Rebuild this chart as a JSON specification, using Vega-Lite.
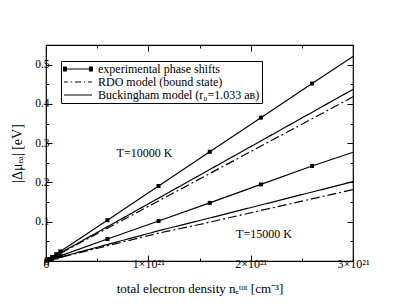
{
  "$schema": "https://vega.github.io/schema/vega-lite/v6.json",
  "width": 307,
  "height": 216,
  "autosize": {"type": "none"},
  "padding": {"left": 46, "top": 45, "right": 45, "bottom": 46},
  "config": {
    "font": "Liberation Serif",
    "view": {"stroke": "black", "strokeWidth": 1.2},
    "mark": {"color": "black"},
    "axis": {
      "domain": false,
      "grid": false,
      "tickColor": "black",
      "tickWidth": 1,
      "labelColor": "black",
      "titleColor": "black",
      "labelFont": "Liberation Serif",
      "titleFont": "Liberation Serif",
      "labelFontSize": 12,
      "titleFontSize": 13,
      "titleFontWeight": "normal",
      "labelFlush": false,
      "labelOverlap": false
    }
  },
  "datasets": {
    "model": [
      {"model": "RDO model (bound state)", "T": 10000, "n": 0, "v": 0},
      {"model": "RDO model (bound state)", "T": 10000, "n": 1.1e21, "v": 0.153},
      {"model": "RDO model (bound state)", "T": 10000, "n": 3e21, "v": 0.418},
      {"model": "Buckingham model (r₀=1.033 aʙ)", "T": 10000, "n": 0, "v": 0},
      {"model": "Buckingham model (r₀=1.033 aʙ)", "T": 10000, "n": 1.1e21, "v": 0.16},
      {"model": "Buckingham model (r₀=1.033 aʙ)", "T": 10000, "n": 3e21, "v": 0.437},
      {"model": "RDO model (bound state)", "T": 15000, "n": 0, "v": 0},
      {"model": "RDO model (bound state)", "T": 15000, "n": 1.1e21, "v": 0.071},
      {"model": "RDO model (bound state)", "T": 15000, "n": 1.5e21, "v": 0.093},
      {"model": "RDO model (bound state)", "T": 15000, "n": 3e21, "v": 0.182},
      {"model": "Buckingham model (r₀=1.033 aʙ)", "T": 15000, "n": 0, "v": 0},
      {"model": "Buckingham model (r₀=1.033 aʙ)", "T": 15000, "n": 1.1e21, "v": 0.077},
      {"model": "Buckingham model (r₀=1.033 aʙ)", "T": 15000, "n": 1.5e21, "v": 0.103},
      {"model": "Buckingham model (r₀=1.033 aʙ)", "T": 15000, "n": 3e21, "v": 0.202}
    ],
    "exp": [
      {"T": 10000, "n": 0, "v": 0},
      {"T": 10000, "n": 1e19, "v": 0.0017},
      {"T": 10000, "n": 3e19, "v": 0.0052},
      {"T": 10000, "n": 6e19, "v": 0.0104},
      {"T": 10000, "n": 1e20, "v": 0.0174},
      {"T": 10000, "n": 1.4e20, "v": 0.0244},
      {"T": 10000, "n": 6e20, "v": 0.104},
      {"T": 10000, "n": 1.1e21, "v": 0.191},
      {"T": 10000, "n": 1.6e21, "v": 0.278},
      {"T": 10000, "n": 2.1e21, "v": 0.365},
      {"T": 10000, "n": 2.6e21, "v": 0.452},
      {"T": 10000, "n": 3e21, "v": 0.521},
      {"T": 15000, "n": 0, "v": 0},
      {"T": 15000, "n": 1e19, "v": 0.0009},
      {"T": 15000, "n": 3e19, "v": 0.0028},
      {"T": 15000, "n": 6e19, "v": 0.0056},
      {"T": 15000, "n": 1e20, "v": 0.0093},
      {"T": 15000, "n": 1.4e20, "v": 0.013},
      {"T": 15000, "n": 6e20, "v": 0.056},
      {"T": 15000, "n": 1.1e21, "v": 0.102},
      {"T": 15000, "n": 1.6e21, "v": 0.148},
      {"T": 15000, "n": 2.1e21, "v": 0.195},
      {"T": 15000, "n": 2.6e21, "v": 0.242},
      {"T": 15000, "n": 3e21, "v": 0.277}
    ],
    "labels": [
      {"label": "T=10000 K", "n": 9.62e20, "v": 0.2756},
      {"label": "T=15000 K", "n": 2.13e21, "v": 0.0687}
    ],
    "legend": [
      {"model": "experimental phase shifts"},
      {"model": "RDO model (bound state)"},
      {"model": "Buckingham model (r₀=1.033 aʙ)"}
    ]
  },
  "layer": [
    {
      "data": {"name": "model"},
      "mark": {"type": "line", "strokeWidth": 1.2},
      "encoding": {
        "x": {
          "field": "n", "type": "quantitative",
          "scale": {"domain": [0, 3e21], "nice": false, "zero": false},
          "axis": {
            "orient": "bottom",
            "values": [0, 1e21, 2e21, 3e21],
            "labelExpr": "datum.value == 0 ? '0' : format(datum.value / 1e21, 'd') + '×10²¹'",
            "tickSize": -6,
            "labelPadding": 3,
            "title": "total electron density nₑᵗᵒᵗ [cm⁻³]",
            "titlePadding": 13
          }
        },
        "y": {
          "field": "v", "type": "quantitative",
          "scale": {"domain": [0, 0.55], "nice": false, "zero": false},
          "axis": {
            "orient": "left",
            "values": [0, 0.1, 0.2, 0.3, 0.4, 0.5],
            "format": "~g",
            "labelFontSize": 11.5,
            "tickSize": -6,
            "labelPadding": 3,
            "title": "|Δμₑₐ|  [eV]",
            "titleFontSize": 14,
            "titlePadding": 10
          }
        },
        "detail": {"field": "T", "type": "nominal"},
        "strokeDash": {
          "field": "model", "type": "nominal",
          "scale": {
            "domain": ["RDO model (bound state)", "Buckingham model (r₀=1.033 aʙ)"],
            "range": [[9, 3, 2, 3], [1, 0]]
          },
          "legend": null
        }
      }
    },
    {
      "data": {"name": "exp"},
      "mark": {"type": "line", "strokeWidth": 1.2},
      "encoding": {
        "x": {
          "field": "n", "type": "quantitative",
          "scale": {"domain": [0, 3e21], "nice": false, "zero": false},
          "axis": {"orient": "top", "values": [0, 1e21, 2e21, 3e21], "labels": false, "tickSize": -6, "title": null}
        },
        "y": {
          "field": "v", "type": "quantitative",
          "scale": {"domain": [0, 0.55], "nice": false, "zero": false},
          "axis": {"orient": "right", "values": [0, 0.1, 0.2, 0.3, 0.4, 0.5], "labels": false, "tickSize": -6, "title": null}
        },
        "detail": {"field": "T", "type": "nominal"}
      }
    },
    {
      "data": {"name": "exp"},
      "transform": [{"filter": "datum.n > 0 && datum.n < 3e21"}],
      "mark": {"type": "point", "shape": "square", "filled": true, "size": 16, "opacity": 1},
      "encoding": {
        "x": {
          "field": "n", "type": "quantitative",
          "scale": {"domain": [0, 3e21], "nice": false, "zero": false},
          "axis": {"orient": "bottom", "values": [5e20, 1.5e21, 2.5e21], "labels": false, "tickSize": -3, "title": null}
        },
        "y": {
          "field": "v", "type": "quantitative",
          "scale": {"domain": [0, 0.55], "nice": false, "zero": false},
          "axis": {"orient": "left", "values": [0.05, 0.15, 0.25, 0.35, 0.45], "labels": false, "tickSize": -3, "title": null}
        }
      }
    },
    {
      "data": {"name": "labels"},
      "mark": {"type": "text", "fontSize": 12, "font": "Liberation Serif", "align": "center", "baseline": "middle"},
      "encoding": {
        "x": {
          "field": "n", "type": "quantitative",
          "scale": {"domain": [0, 3e21], "nice": false, "zero": false},
          "axis": {"orient": "top", "values": [5e20, 1.5e21, 2.5e21], "labels": false, "tickSize": -3, "title": null}
        },
        "y": {
          "field": "v", "type": "quantitative",
          "scale": {"domain": [0, 0.55], "nice": false, "zero": false},
          "axis": {"orient": "right", "values": [0.05, 0.15, 0.25, 0.35, 0.45], "labels": false, "tickSize": -3, "title": null}
        },
        "text": {"field": "label", "type": "nominal"}
      }
    },
    {
      "data": {"name": "legend"},
      "mark": {"type": "point", "filled": false, "stroke": "black", "strokeWidth": 1.2, "opacity": 0},
      "encoding": {
        "shape": {
          "field": "model", "type": "nominal",
          "scale": {
            "domain": ["experimental phase shifts", "RDO model (bound state)", "Buckingham model (r₀=1.033 aʙ)"],
            "range": [
              "M-1,0H1M-1.07,-0.14H-0.79M-1.07,-0.07H-0.79M-1.07,0H-0.79M-1.07,0.07H-0.79M-1.07,0.14H-0.79M0.79,-0.14H1.07M0.79,-0.07H1.07M0.79,0H1.07M0.79,0.07H1.07M0.79,0.14H1.07",
              "M-1,0H-0.72M-0.52,0H-0.42M-0.22,0H0.22M0.42,0H0.52M0.72,0H1",
              "M-1,0H1"
            ]
          },
          "legend": {
            "title": null,
            "orient": "none",
            "legendX": 15,
            "legendY": 16,
            "padding": 2,
            "strokeColor": "black",
            "fillColor": "white",
            "cornerRadius": 0,
            "symbolSize": 784,
            "symbolStrokeColor": "black",
            "symbolFillColor": "transparent",
            "symbolStrokeWidth": 1.2,
            "symbolOpacity": 1,
            "labelFont": "Liberation Serif",
            "labelFontSize": 12,
            "labelColor": "black",
            "labelLimit": 300,
            "labelOffset": 5,
            "clipHeight": 12,
            "rowPadding": 1
          }
        }
      }
    }
  ],
  "resolve": {"axis": {"x": "independent", "y": "independent"}}
}
